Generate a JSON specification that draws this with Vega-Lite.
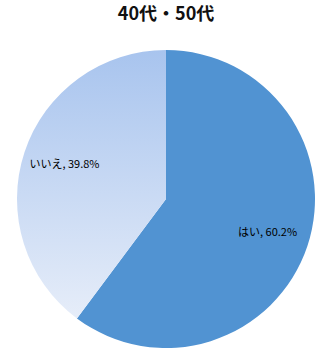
{
  "$schema": "https://vega.github.io/schema/vega-lite/v6.json",
  "autosize": "none",
  "width": 298,
  "height": 298,
  "padding": {"left": 17, "top": 50, "right": 3, "bottom": 1},
  "background": "white",
  "title": {
    "text": "40代・50代",
    "font": "Noto Sans CJK JP",
    "fontSize": 18,
    "fontWeight": "bold",
    "color": "#111111",
    "anchor": "middle",
    "offset": 26
  },
  "view": {"stroke": null},
  "data": {
    "values": [
      {"answer": "はい", "pct": 60.2, "label": "はい, 60.2%"},
      {"answer": "いいえ", "pct": 39.8, "label": "いいえ, 39.8%"}
    ]
  },
  "encoding": {
    "theta": {"field": "pct", "type": "quantitative", "stack": true, "sort": null},
    "order": {"field": "order_none", "type": "quantitative"}
  },
  "layer": [
    {
      "mark": {"type": "arc", "outerRadius": 149},
      "encoding": {
        "color": {
          "condition": {"test": "datum.answer === 'はい'", "value": "#5193d2"},
          "value": {
            "gradient": "linear",
            "x1": 0, "y1": 0, "x2": 0, "y2": 1,
            "stops": [
              {"offset": 0, "color": "#a8c4ee"},
              {"offset": 1, "color": "#e6edf9"}
            ]
          }
        }
      }
    },
    {
      "mark": {"type": "text", "radius": 107, "font": "Noto Sans CJK JP", "fontSize": 11, "color": "#000000"},
      "encoding": {"text": {"field": "label", "type": "nominal"}}
    }
  ]
}
